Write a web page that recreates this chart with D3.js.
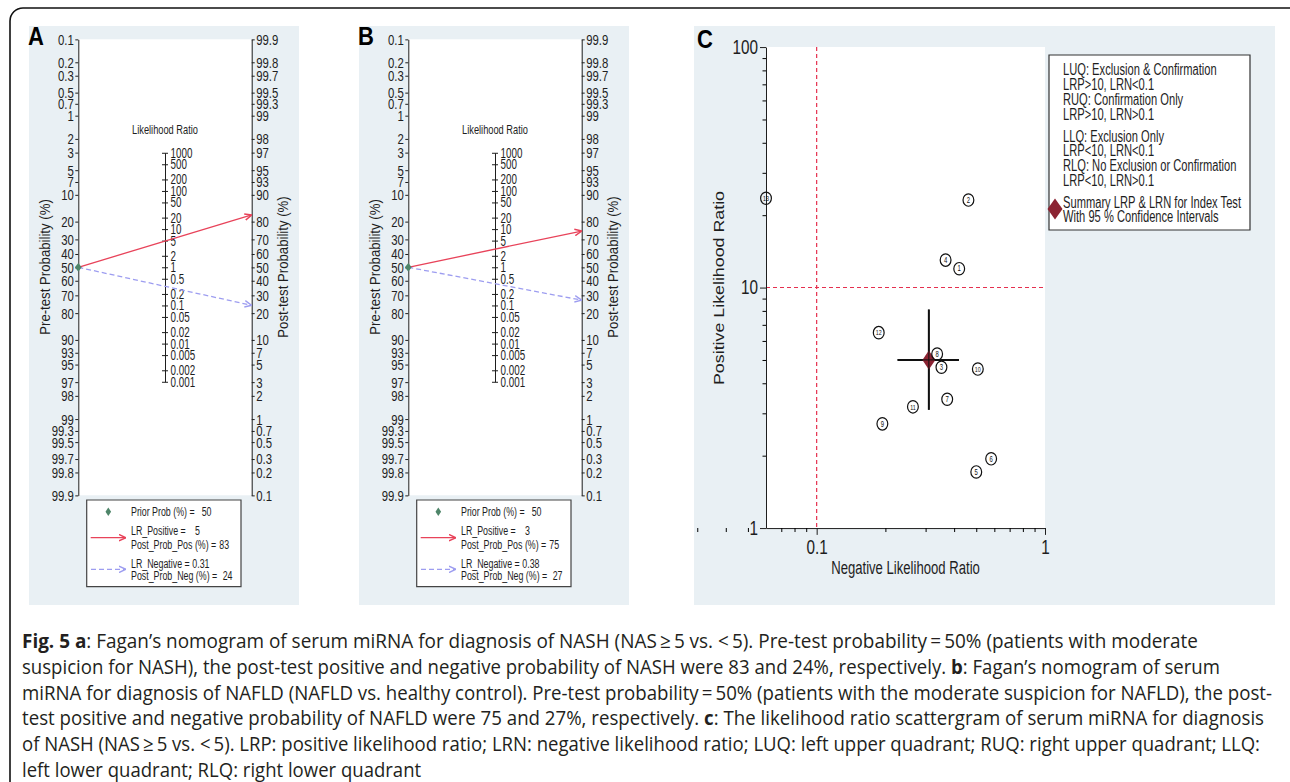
<!DOCTYPE html>
<html>
<head>
<meta charset="utf-8">
<script src="https://cdn.jsdelivr.net/npm/d3@7"></script>
<style>
body { margin: 0; background: #fff; }
svg { display: block; }
path, line, rect, circle { vector-effect: non-scaling-stroke; }
</style>
</head>
<body>
<div id="root"></div>
<script>
// ---- data: Fagan nomograms (A, B) ----
const panelNames = ['A', 'B'];
const priorProb = [50, 50];
const lrPositive = [5, 3];
const postProbPos = [83, 75];
const lrNegative = [0.31, 0.38];
const postProbNeg = [24, 27];
const probTicks = [0.1, 0.2, 0.3, 0.5, 0.7, 1, 2, 3, 5, 7, 10, 20, 30, 40, 50, 60, 70, 80, 90, 93, 95, 97, 98, 99, 99.3, 99.5, 99.7, 99.8, 99.9];
const lrTicks = [1000, 500, 200, 100, 50, 20, 10, 5, 2, 1, 0.5, 0.2, 0.1, 0.05, 0.02, 0.01, 0.005, 0.002, 0.001];

// ---- data: likelihood ratio scattergram (C) ----
const studyIds = [1, 2, 3, 4, 5, 6, 7, 8, 9, 10, 11, 12, 13];
const studyLRN = [0.421, 0.462, 0.352, 0.367, 0.500, 0.581, 0.373, 0.337, 0.194, 0.508, 0.264, 0.187, 0.06];
const studyLRP = [11.97, 23.1, 4.66, 13.0, 1.71, 1.94, 3.43, 5.29, 2.71, 4.58, 3.19, 6.49, 23.5];
const summaryLRN = 0.31, summaryLRNci = [0.226, 0.42];
const summaryLRP = 5.0, summaryLRPci = [3.1, 8.1];
const lrpTicks = [1, 10, 100];
const lrpMinor = [2, 3, 4, 5, 6, 7, 8, 9, 20, 30, 40, 50, 60, 70, 80, 90];
const lrnTicks = [0.1, 1];
const lrnMinor = [0.03, 0.04, 0.05, 0.07, 0.08, 0.09, 0.2, 0.3, 0.4, 0.5, 0.6, 0.7, 0.8, 0.9];
const legendC = ['LUQ: Exclusion & Confirmation', 'LRP>10, LRN<0.1', 'RUQ: Confirmation Only', 'LRP>10, LRN>0.1',
  'LLQ: Exclusion Only', 'LRP<10, LRN<0.1', 'RLQ: No Exclusion or Confirmation', 'LRP<10, LRN>0.1',
  'Summary LRP & LRN for Index Test', 'With 95 % Confidence Intervals'];

const captionLines = [
  [['Fig. 5 a', 1], [': Fagan\u2019s nomogram of serum miRNA for diagnosis of NASH (NAS\u2009\u2265\u20095 vs. <\u20095). Pre-test probability\u2009=\u200950% (patients with moderate', 0]],
  [['suspicion for NASH), the post-test positive and negative probability of NASH were 83 and 24%, respectively. ', 0], ['b', 1], [': Fagan\u2019s nomogram of serum', 0]],
  [['miRNA for diagnosis of NAFLD (NAFLD vs. healthy control). Pre-test probability\u2009=\u200950% (patients with the moderate suspicion for NAFLD), the post-', 0]],
  [['test positive and negative probability of NAFLD were 75 and 27%, respectively. ', 0], ['c', 1], [': The likelihood ratio scattergram of serum miRNA for diagnosis', 0]],
  [['of NASH (NAS\u2009\u2265\u20095 vs. <\u20095). LRP: positive likelihood ratio; LRN: negative likelihood ratio; LUQ: left upper quadrant; RUQ: right upper quadrant; LLQ:', 0]],
  [['left lower quadrant; RLQ: right lower quadrant', 0]]
];
// right end of each caption line in the reference (last line runs free)
const captionEnds = [1198, 1220, 1272, 1264, 1260, null];

// ---- layout ----
const width = 1290, height = 782;
const K = 1.15;              // the whole figure is stretched vertically
const Y = v => v / K;
const arial = "'Liberation Sans',Arial,sans-serif";
const panelBg = '#e9f0f4', ink = '#1e1e1e';
const redCol = '#e8435a', blueCol = '#9d9df0', greenCol = '#4e8569', summaryCol = '#8b2332';

// condense text horizontally around its anchor point
function squeeze(sel, sq) {
  sq = sq || 0.82;
  sel.each(function () {
    const t = d3.select(this);
    const x = +t.attr('x') || 0, y = +t.attr('y') || 0;
    const tr = t.attr('transform') || '';
    t.attr('x', null).attr('y', null)
      .attr('transform', `${tr} translate(${x},${y}) scale(${sq},1)`);
  });
}

const svg = d3.select('#root').append('svg')
  .attr('width', width).attr('height', height);

const defs = svg.append('defs');
[['arrRed', redCol], ['arrBlue', blueCol]].forEach(([id, c]) => {
  defs.append('marker').attr('id', id)
    .attr('viewBox', '0 0 10 10').attr('refX', 10).attr('refY', 5)
    .attr('markerWidth', 7).attr('markerHeight', 7)
    .attr('markerUnits', 'userSpaceOnUse').attr('orient', 'auto')
    .append('path').attr('d', 'M0,1 L10,5 L0,9')
    .attr('fill', 'none').attr('stroke', c).attr('stroke-width', 1.3);
});

const root = svg.append('g').attr('transform', `scale(1,${K})`);

// outer frame
root.append('rect')
  .attr('x', 10).attr('y', Y(8)).attr('width', 1320).attr('height', Y(820))
  .attr('rx', 13).attr('ry', 13 / K)
  .attr('fill', 'none').attr('stroke', '#111').attr('stroke-width', 1.6);

const logit = p => Math.log(p / (100 - p));

function diamond(g, cx, cy, hw, hh, col) {
  g.append('path')
    .attr('d', `M${cx},${cy - hh}L${cx + hw},${cy}L${cx},${cy + hh}L${cx - hw},${cy}Z`)
    .attr('fill', col);
}

function label(g, x, y, str, size, anchor, sq) {
  return g.append('text').attr('x', x).attr('y', y)
    .attr('text-anchor', anchor || 'start')
    .attr('font-family', arial).attr('font-size', size).attr('fill', ink)
    .text(str).call(squeeze, sq);
}

function styleAxis(ax, size, sq) {
  ax.attr('font-family', arial).attr('font-size', size).attr('color', ink);
  ax.selectAll('path, line').attr('stroke-width', 1);
  ax.selectAll('text').call(squeeze, sq);
}

// ---- A and B: Fagan nomograms ----
panelNames.forEach((name, i) => {
  const g = root.append('g').attr('transform', `translate(${i * 330},0)`);
  const xL = 78.3, xR = 251.7, xM = (xL + xR) / 2;

  g.append('rect').attr('x', 29).attr('y', Y(26)).attr('width', 270).attr('height', Y(579))
    .attr('fill', panelBg);
  g.append('rect').attr('x', xL).attr('y', Y(39.3)).attr('width', xR - xL).attr('height', Y(456))
    .attr('fill', '#fff');

  const preY = d3.scaleLinear().domain([logit(0.1), logit(99.9)]).range([Y(39.3), Y(495.3)]);
  const postY = d3.scaleLinear().domain([logit(99.9), logit(0.1)]).range([Y(39.3), Y(495.3)]);
  const lrY = d3.scaleLog().domain([1000, 0.001]).range([Y(152.7), Y(381.7)]);

  const axL = g.append('g').attr('transform', `translate(${xL},0)`)
    .call(d3.axisLeft(preY).tickValues(probTicks.map(logit))
      .tickFormat((d, j) => probTicks[j]).tickSize(3).tickSizeOuter(0).tickPadding(1.5));
  styleAxis(axL, 13.4, 0.85);

  const axR = g.append('g').attr('transform', `translate(${xR},0)`)
    .call(d3.axisRight(postY).tickValues(probTicks.map(logit))
      .tickFormat((d, j) => probTicks[j]).tickSize(3).tickSizeOuter(0).tickPadding(1.5));
  styleAxis(axR, 13.4, 0.85);

  const axM = g.append('g').attr('transform', `translate(${xM},0)`)
    .call(d3.axisRight(lrY).tickValues(lrTicks).tickFormat(d => String(d))
      .tickSize(3).tickSizeOuter(0).tickPadding(2.5));
  axM.selectAll('.tick line').attr('x1', -3);
  styleAxis(axM, 12, 0.82);

  label(g, xM, Y(133.5), 'Likelihood Ratio', 11.3, 'middle');

  g.append('text').attr('transform', `translate(50,${Y(267)}) rotate(-90)`)
    .attr('text-anchor', 'middle').attr('font-family', arial).attr('font-size', 14)
    .attr('fill', ink).text('Pre-test Probability (%)').call(squeeze);
  g.append('text').attr('transform', `translate(288,${Y(267)}) rotate(-90)`)
    .attr('text-anchor', 'middle').attr('font-family', arial).attr('font-size', 14)
    .attr('fill', ink).text('Post-test Probability (%)').call(squeeze);

  // lines through the nomogram
  const y0 = preY(logit(priorProb[i]));
  g.append('line').attr('x1', xL).attr('y1', y0)
    .attr('x2', xR).attr('y2', postY(logit(postProbPos[i])))
    .attr('stroke', redCol).attr('stroke-width', 1.3).attr('marker-end', 'url(#arrRed)');
  g.append('line').attr('x1', xL).attr('y1', y0)
    .attr('x2', xR).attr('y2', postY(logit(postProbNeg[i])))
    .attr('stroke', blueCol).attr('stroke-width', 1.3).attr('stroke-dasharray', '5,3')
    .attr('marker-end', 'url(#arrBlue)');
  diamond(g, xL, y0, 3.4, 4.4 / K, greenCol);

  // legend
  g.append('rect').attr('x', 86.7).attr('y', Y(500)).attr('width', 154.3).attr('height', Y(86.7))
    .attr('fill', '#fff').attr('stroke', '#444').attr('stroke-width', 1.2);
  diamond(g, 108.3, Y(511.7), 2.8, 4.2 / K, greenCol);
  g.append('line').attr('x1', 90.7).attr('x2', 126).attr('y1', Y(537.7)).attr('y2', Y(537.7))
    .attr('stroke', redCol).attr('stroke-width', 1.3).attr('marker-end', 'url(#arrRed)');
  g.append('line').attr('x1', 91).attr('x2', 126).attr('y1', Y(569.3)).attr('y2', Y(569.3))
    .attr('stroke', blueCol).attr('stroke-width', 1.3).attr('stroke-dasharray', '5,3')
    .attr('marker-end', 'url(#arrBlue)');

  const rows = [
    ['Prior Prob (%) =', priorProb[i]],
    ['LR_Positive =', lrPositive[i]],
    ['Post_Prob_Pos (%) =', postProbPos[i]],
    ['LR_Negative =', lrNegative[i]],
    ['Post_Prob_Neg (%) =', postProbNeg[i]]
  ];
  const rowY = [516, 535.3, 548.6, 568.3, 580.3];
  const valueX = [201.7, 195, 219.3, 192.3, 222.7];
  rows.forEach((r, j) => {
    label(g, 131, Y(rowY[j]), r[0], 10.8);
    label(g, valueX[j], Y(rowY[j]), r[1], 10.8);
  });

  g.append('text').attr('x', 28).attr('y', Y(45)).attr('font-family', arial)
    .attr('font-weight', 'bold').attr('font-size', 22).attr('fill', '#000').text(name);
});

// ---- C: likelihood ratio scattergram ----
const gc = root.append('g');
gc.append('rect').attr('x', 694).attr('y', Y(26)).attr('width', 581).attr('height', Y(579))
  .attr('fill', panelBg);
gc.append('rect').attr('x', 766).attr('y', Y(47)).attr('width', 279).attr('height', Y(481))
  .attr('fill', '#fff');

const xC = d3.scaleLog().domain([0.06, 1]).range([766, 1045]);
const yC = d3.scaleLog().domain([1, 100]).range([Y(528), Y(47)]);

// reference lines at LRN = 0.1 and LRP = 10
gc.append('line').attr('x1', xC(0.1)).attr('x2', xC(0.1)).attr('y1', yC(100)).attr('y2', yC(1))
  .attr('stroke', '#e5304f').attr('stroke-width', 1.2).attr('stroke-dasharray', '4,3');
gc.append('line').attr('x1', xC(0.06)).attr('x2', xC(1)).attr('y1', yC(10)).attr('y2', yC(10))
  .attr('stroke', '#e5304f').attr('stroke-width', 1.2).attr('stroke-dasharray', '4,3');

const axY = gc.append('g').attr('transform', 'translate(766,0)')
  .call(d3.axisLeft(yC).tickValues(lrpTicks).tickFormat(d3.format('d')).tickSize(6).tickSizeOuter(0).tickPadding(2));
styleAxis(axY, 17, 0.9);
gc.append('g').attr('transform', 'translate(766,0)')
  .call(d3.axisLeft(yC).tickValues(lrpMinor).tickFormat('').tickSize(3.5).tickSizeOuter(0))
  .call(a => a.select('.domain').remove());

const axX = gc.append('g').attr('transform', `translate(0,${Y(528)})`)
  .call(d3.axisBottom(xC).tickValues(lrnTicks).tickFormat(d => String(d)).tickSize(6).tickSizeOuter(0).tickPadding(4.5));
styleAxis(axX, 17, 0.9);
gc.append('g').attr('transform', `translate(0,${Y(528)})`)
  .call(d3.axisBottom(xC).tickValues(lrnMinor).tickFormat('').tickSize(3.5).tickSizeOuter(0))
  .call(a => a.select('.domain').remove());

gc.append('text').attr('transform', `translate(723.5,${Y(288)}) rotate(-90)`)
  .attr('text-anchor', 'middle').attr('font-family', arial).attr('font-size', 15.5)
  .attr('fill', ink).text('Positive Likelihood Ratio');
label(gc, 905.5, Y(574), 'Negative Likelihood Ratio', 16, 'middle');

// summary point with 95% CI
const sx = xC(summaryLRN), sy = yC(summaryLRP);
gc.append('line').attr('x1', xC(summaryLRNci[0])).attr('x2', xC(summaryLRNci[1]))
  .attr('y1', sy).attr('y2', sy).attr('stroke', '#111').attr('stroke-width', 2);
gc.append('line').attr('x1', sx).attr('x2', sx)
  .attr('y1', yC(summaryLRPci[0])).attr('y2', yC(summaryLRPci[1]))
  .attr('stroke', '#111').attr('stroke-width', 2);
diamond(gc, sx, sy, 6.5, 9.5 / K, summaryCol);
gc.append('line').attr('x1', xC(summaryLRNci[0])).attr('x2', xC(summaryLRNci[1]))
  .attr('y1', sy).attr('y2', sy).attr('stroke', '#111').attr('stroke-width', 1);
gc.append('line').attr('x1', sx).attr('x2', sx)
  .attr('y1', yC(summaryLRPci[0])).attr('y2', yC(summaryLRPci[1]))
  .attr('stroke', '#111').attr('stroke-width', 1);

// individual studies
const pts = gc.selectAll('g.study').data(studyIds).enter().append('g')
  .attr('class', 'study')
  .attr('transform', (d, j) => `translate(${xC(studyLRN[j])},${yC(studyLRP[j])})`);
pts.append('circle').attr('r', 5.4).attr('fill', 'none').attr('stroke', '#111').attr('stroke-width', 1.2);
pts.append('text').attr('text-anchor', 'middle').attr('y', 2.4)
  .attr('font-family', arial).attr('font-size', d => d > 9 ? 6.5 : 7.2).attr('fill', '#111')
  .text(d => d).call(squeeze);

// legend C
gc.append('rect').attr('x', 1049).attr('y', Y(55)).attr('width', 201).attr('height', Y(175))
  .attr('fill', '#fff').attr('stroke', '#333').attr('stroke-width', 1.2);
const legY = [69.3, 84, 99.3, 114.3, 136, 150.7, 165.7, 180.7, 202.3, 216.7];
legendC.forEach((d, j) => label(gc, 1063, Y(legY[j] + 5.6), d, 13.6));
diamond(gc, 1055, Y(209), 7.5, 10.5 / K, summaryCol);

gc.append('text').attr('x', 697).attr('y', Y(48)).attr('font-family', arial)
  .attr('font-weight', 'bold').attr('font-size', 22).attr('fill', '#000').text('C');

// ---- caption ----
const cap = root.append('g').attr('font-family', "'Open Sans',sans-serif")
  .attr('font-size', 17.5).attr('fill', '#231f20');
captionLines.forEach((segs, j) => {
  const t = cap.append('text').attr('x', 22).attr('y', Y(648 + j * 25.8)).style('white-space', 'pre');
  segs.forEach(s => t.append('tspan').attr('font-weight', s[1] ? 'bold' : null).text(s[0]));
  const natural = t.node().getComputedTextLength();
  const target = captionEnds[j] ? captionEnds[j] - 22 : natural * 1.06;
  t.attr('textLength', target).attr('lengthAdjust', 'spacingAndGlyphs');
});
</script>
</body>
</html>
